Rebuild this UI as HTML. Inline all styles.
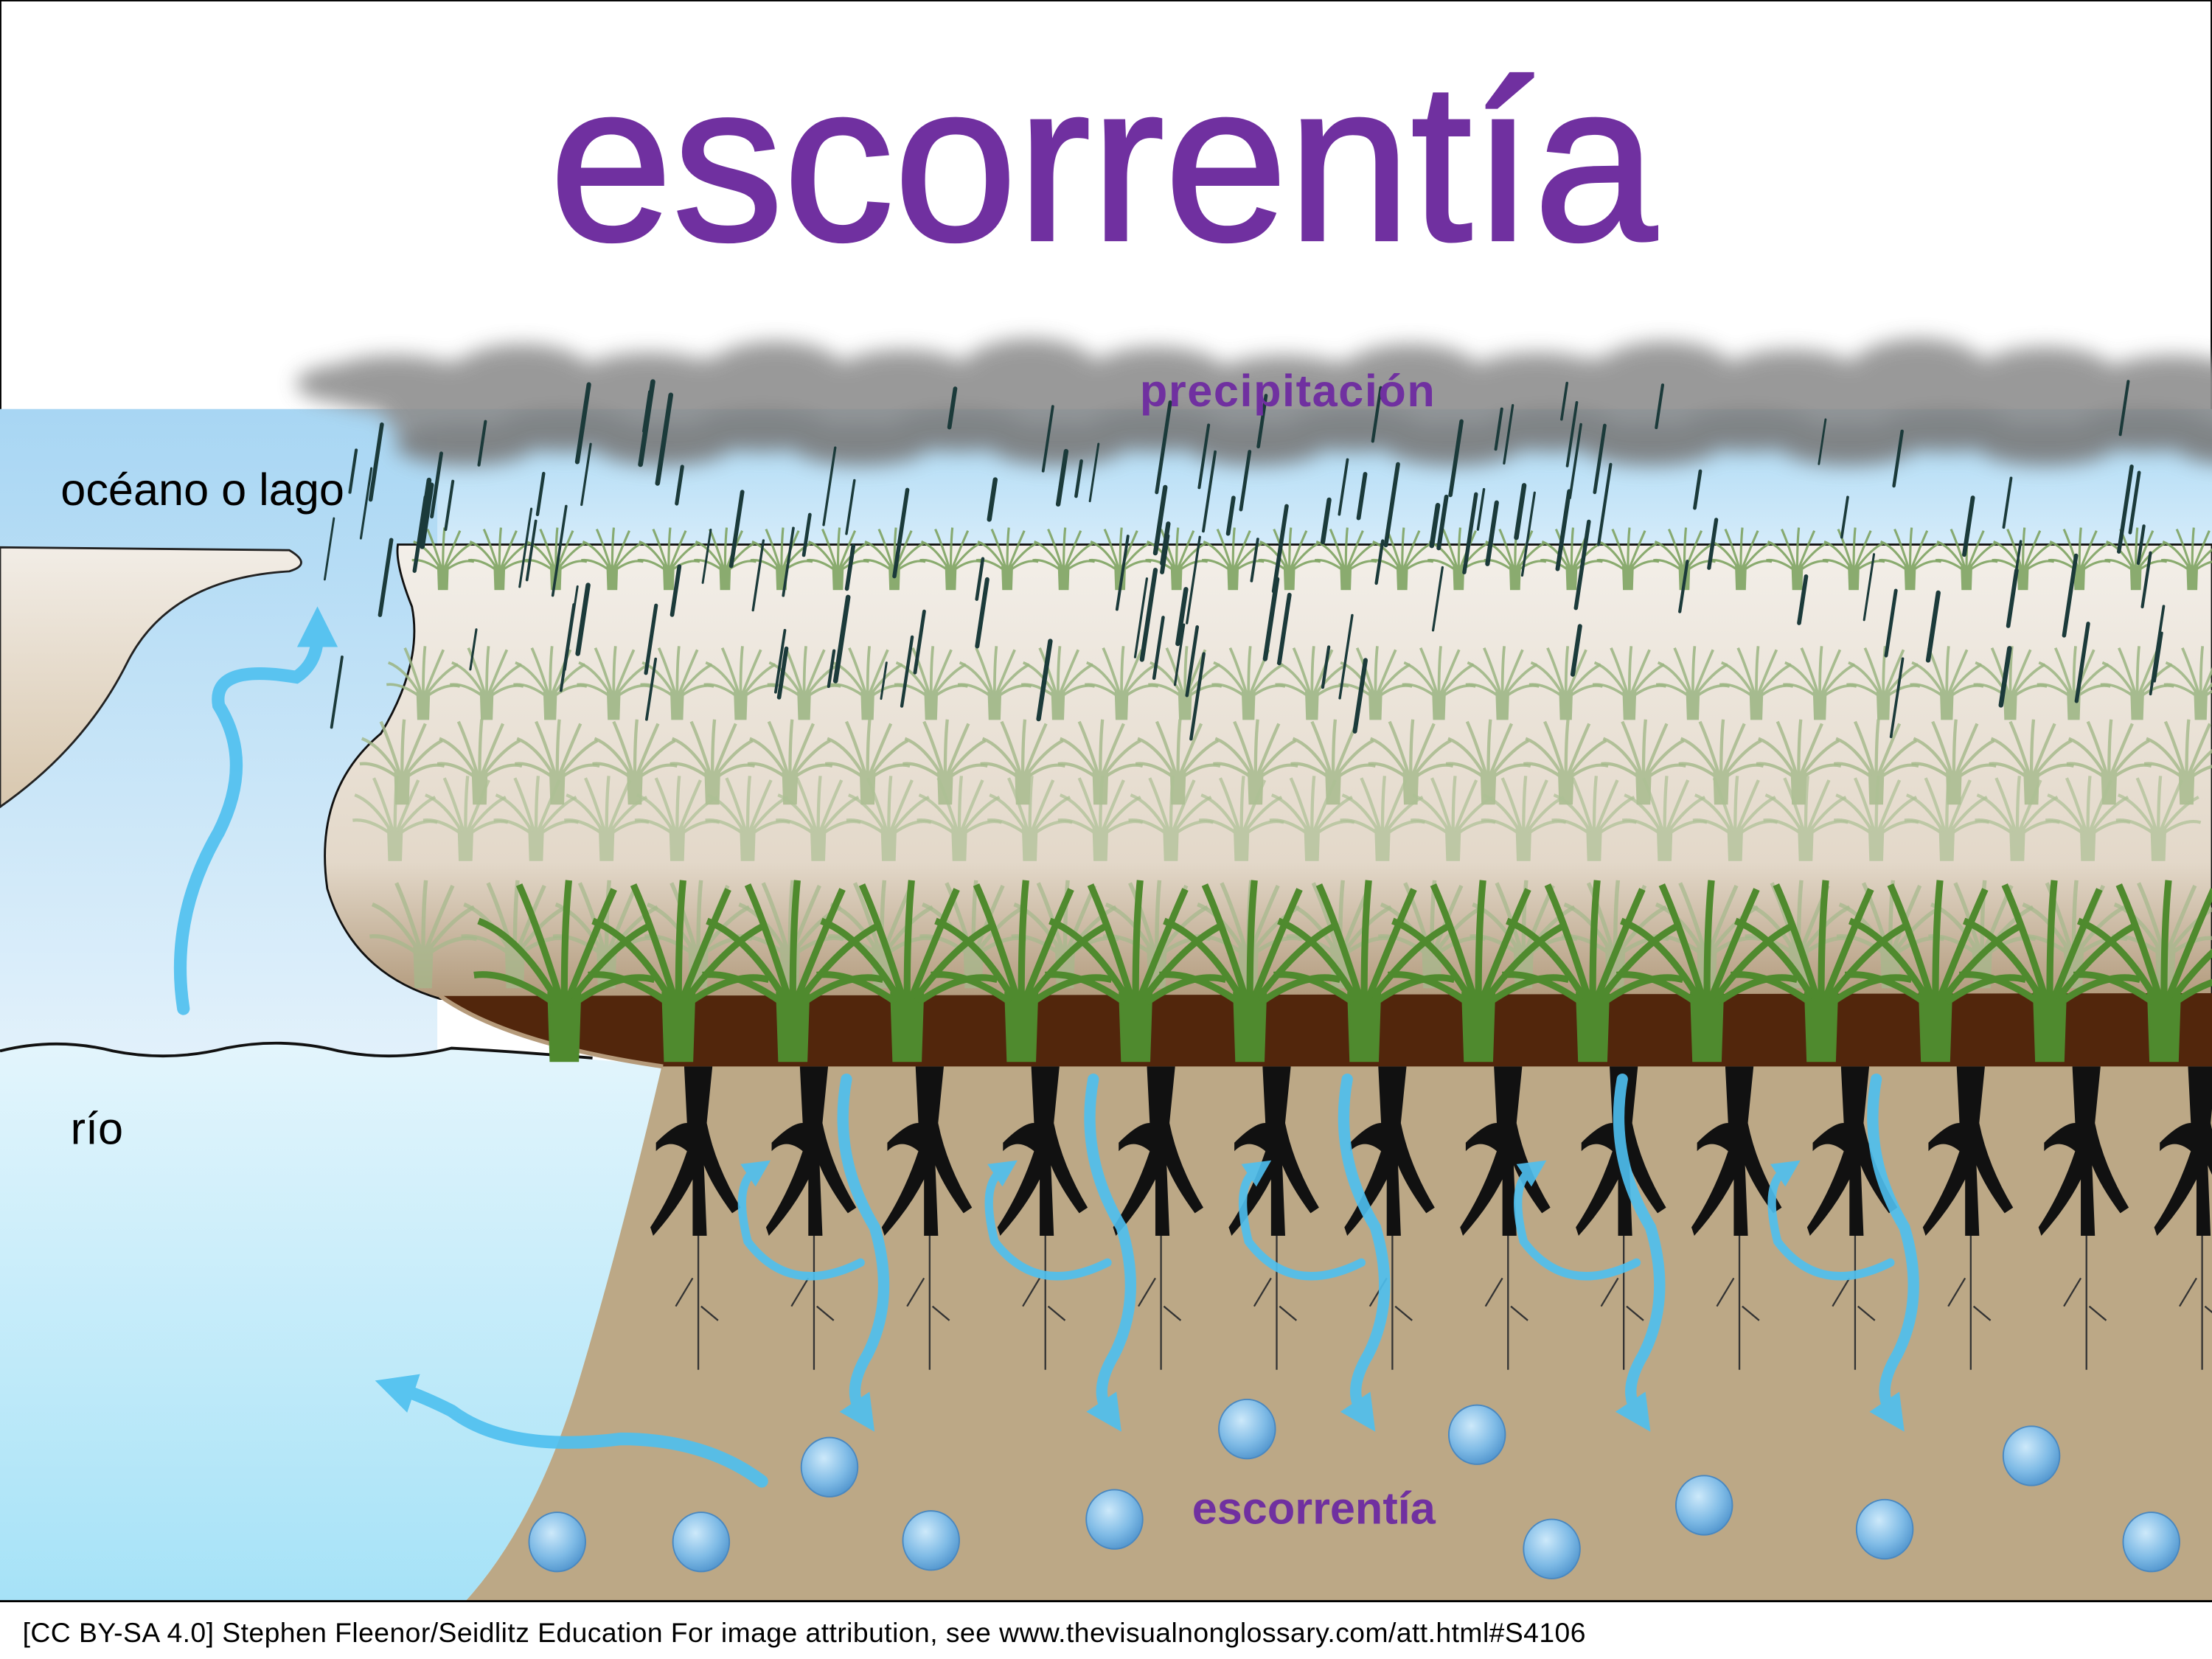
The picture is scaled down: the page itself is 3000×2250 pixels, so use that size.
<!DOCTYPE html>
<html><head><meta charset="utf-8">
<style>
html,body{margin:0;padding:0;background:#fff;}
svg{display:block;}
text{font-family:"Liberation Sans",sans-serif;}
</style></head>
<body>
<svg id="s" width="3000" height="2250" viewBox="0 0 1568 1176" xmlns="http://www.w3.org/2000/svg">
<defs>
 <linearGradient id="sky" x1="0" y1="0" x2="0" y2="1">
  <stop offset="0" stop-color="#a9d8f4"/><stop offset="1" stop-color="#d6ecfa"/>
 </linearGradient>
 <linearGradient id="ocean" x1="0" y1="0" x2="0" y2="1">
  <stop offset="0" stop-color="#a8d6f3"/><stop offset="1" stop-color="#e2f1fb"/>
 </linearGradient>
 <linearGradient id="river" x1="0" y1="0" x2="0" y2="1">
  <stop offset="0" stop-color="#e3f5fc"/><stop offset="1" stop-color="#a6e2f7"/>
 </linearGradient>
 <linearGradient id="field" x1="0" y1="0" x2="0" y2="1">
  <stop offset="0" stop-color="#f3efe9"/><stop offset="0.7" stop-color="#e3d8c9"/><stop offset="1" stop-color="#b29a7c"/>
 </linearGradient>
 <linearGradient id="bank" x1="0" y1="0" x2="0" y2="1">
  <stop offset="0" stop-color="#f2ede6"/><stop offset="1" stop-color="#d8c7ae"/>
 </linearGradient>
 <filter id="blur" x="-20%" y="-50%" width="140%" height="200%"><feGaussianBlur stdDeviation="7"/></filter>
 <symbol id="tuft" viewBox="-40 -80 80 80" overflow="visible">
  <path d="M-6 0 L-7 -30 L7 -30 L6 0Z" />
  <path d="M-4 -28 Q-20 -55 -38 -62 M-2 -28 Q-12 -60 -20 -78 M0 -28 Q0 -60 2 -80 M2 -28 Q14 -58 22 -76 M4 -28 Q22 -52 38 -60 M-5 -26 Q-25 -40 -40 -38 M5 -26 Q25 -40 40 -36" fill="none" stroke-width="3" stroke="inherit"/>
 </symbol>
 <symbol id="root" viewBox="-40 0 80 220" overflow="visible">
  <path d="M-10 0 L10 0 L6 40 Q12 70 30 100 L24 104 Q10 85 4 70 L6 120 L-4 120 L-4 80 Q-14 100 -32 120 L-34 114 Q-18 90 -8 60 Q-20 50 -30 60 L-30 54 Q-16 40 -8 40Z" fill="#111"/>
  <path d="M0 120 L0 215 M-4 150 L-16 170 M2 170 L14 180" stroke="#333" stroke-width="1.2" fill="none"/>
 </symbol>
 <marker id="ah" viewBox="0 0 10 10" refX="3" refY="5" markerWidth="3.2" markerHeight="3.2" orient="auto">
  <path d="M0 0 L10 5 L0 10Z" fill="#4ec0f0"/>
 </marker>
 <radialGradient id="drop" cx="0.4" cy="0.35" r="0.7">
  <stop offset="0" stop-color="#cde9fa"/><stop offset="0.6" stop-color="#7fbbe6"/><stop offset="1" stop-color="#4f93cc"/>
 </radialGradient>
</defs>

<rect x="0.5" y="0.5" width="1567" height="1175" fill="#fff" stroke="#000"/>

<text x="782" y="170" font-size="160" fill="#7030a0" stroke="#7030a0" stroke-width="2" text-anchor="middle" textLength="785" lengthAdjust="spacingAndGlyphs">escorrentía</text>

<rect x="0" y="290" width="1568" height="100" fill="url(#sky)"/>
<rect x="0" y="290" width="310" height="460" fill="url(#ocean)"/>

<g id="clouds" filter="url(#blur)" fill="#8f8f8f" opacity="0.9"></g>

<path d="M0 388 L205 390 Q222 400 205 405 Q120 410 90 470 Q60 530 0 572Z" fill="url(#bank)" stroke="#222" stroke-width="1.5"/>

<path d="M0 742 Q40 735 80 745 Q120 752 160 742 Q200 735 240 745 Q280 752 320 742 Q380 748 470 755 Q440 880 410 980 Q380 1080 330 1135 L0 1135Z" fill="url(#river)"/>
<path d="M0 745 Q40 735 80 745 Q120 753 160 743 Q200 735 240 745 Q280 753 320 743 Q360 745 420 750" fill="none" stroke="#111" stroke-width="2"/>

<path d="M470 752 L1568 752 L1568 1135 L330 1135 Q380 1080 410 980 Q440 880 470 752Z" fill="#bca886"/>

<path d="M282 386 L1568 386 L1568 706 L312 708 Q250 690 232 630 Q222 560 270 520 Q300 470 292 430 Q280 400 282 386Z" fill="url(#field)" stroke="#111" stroke-width="1.5"/>
<path d="M312 706 L1568 704 L1568 756 L470 756 Q360 740 312 706Z" fill="#52260c"/>
<path d="M312 706 Q360 740 470 756" fill="none" stroke="#b59a7a" stroke-width="3"/>

<g id="grass"></g>
<g id="roots"></g>
<g id="rain" stroke="#1b3a3a" stroke-linecap="round"></g>
<g id="arrows" fill="none" stroke-linecap="round"></g>
<g id="drops"></g>

<text x="43" y="358" font-size="32" fill="#000">océano o lago</text>
<text x="50" y="811" font-size="32" fill="#000">río</text>
<text x="808" y="288" font-size="32" font-weight="bold" fill="#7030a0" textLength="209">precipitación</text>
<text x="845" y="1080" font-size="32" font-weight="bold" fill="#7030a0">escorrentía</text>

<rect x="0" y="1135" width="1568" height="41" fill="#fff"/>
<line x1="0" y1="1135" x2="1568" y2="1135" stroke="#000" stroke-width="1.5"/>
<text x="16" y="1164" font-size="19.5" fill="#000" textLength="1108">[CC BY-SA 4.0] Stephen Fleenor/Seidlitz Education For image attribution, see www.thevisualnonglossary.com/att.html#S4106</text>
</svg>
<script>
const NS="http://www.w3.org/2000/svg";
function el(p,t,a){const e=document.createElementNS(NS,t);for(const k in a)e.setAttribute(k,a[k]);p.appendChild(e);return e;}
const c=document.getElementById('clouds');
for(let x=280;x<1600;x+=45){el(c,'ellipse',{cx:x,cy:272+((x*7)%30)-10,rx:55,ry:20+((x*13)%14)});}
for(let x=330;x<1600;x+=70){el(c,'ellipse',{cx:x,cy:305+((x*11)%20),rx:50,ry:15,fill:'#7a7a7a'});}
el(c,'ellipse',{cx:250,cy:272,rx:40,ry:14});
const g=document.getElementById('grass');
function tuft(x,y,s,col,op){const u=el(g,'use',{href:'#tuft',x:x-40*s,y:y-80*s,width:80*s,height:80*s,fill:col,stroke:col,opacity:op});u.setAttributeNS("http://www.w3.org/1999/xlink","href","#tuft");}
const rows=[[418,0.55,40,300,'#7fa463',0.9],[510,0.65,45,290,'#9bb582',0.85],[570,0.75,55,275,'#a4b98a',0.8],[610,0.75,50,270,'#adc095',0.7],[700,0.95,65,300,'#a5b98c',0.7]];
for(const r of rows){for(let x=r[3]+((r[0]*3)%20);x<1580;x+=r[2])tuft(x,r[0],r[1],r[4],r[5]);}
for(let x=400;x<1580;x+=81)tuft(x,752,1.6,'#4f8a2e',1);
const ro=document.getElementById('roots');
for(let x=495;x<1580;x+=82){const u=el(ro,'use',{href:'#root',x:x-40,y:756,width:80,height:220});u.setAttributeNS("http://www.w3.org/1999/xlink","href","#root");}
const rn=document.getElementById('rain');
let seed=7;function rnd(){seed=(seed*9301+49297)%233280;return seed/233280;}
for(let i=0;i<130;i++){const x=230+rnd()*1340,y=270+rnd()*200,l=25+rnd()*40;el(rn,'line',{x1:x+l*0.15,y1:y,x2:x,y2:y+l,'stroke-width':1.5+rnd()*2});}
const a=document.getElementById('arrows');
function arr(d,w){el(a,'path',{d:d,stroke:'#4ec0f0','stroke-width':w,'marker-end':'url(#ah)',opacity:0.9});}
arr('M130 715 Q120 650 155 590 Q180 540 155 500 Q150 470 210 480 Q225 470 225 450',9);
arr('M540 1050 Q500 1020 440 1020 Q360 1030 320 1000 Q300 990 285 985',9);
for(const x of [600,775,955,1150,1330]){arr(`M${x} 765 Q${x-10} 820 ${x+20} 870 Q${x+35} 920 ${x+15} 960 Q${x} 985 ${x+10} 1000`,8);
 arr(`M${x+10} 895 Q${x-40} 920 ${x-70} 880 Q${x-80} 840 ${x-65} 830`,6);}
const dr=document.getElementById('drops');
for(const [x,y] of [[588,1040],[395,1093],[497,1093],[660,1092],[790,1077],[884,1013],[1047,1017],[1100,1098],[1208,1067],[1336,1084],[1440,1032],[1525,1093]]){el(dr,'ellipse',{cx:x,cy:y,rx:20,ry:21,fill:'url(#drop)',stroke:'#4a88c0','stroke-width':1});}
</script>
</body></html>
